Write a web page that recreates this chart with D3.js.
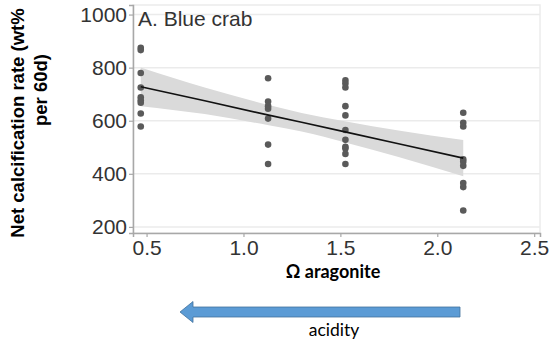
<!DOCTYPE html>
<html>
<head>
<meta charset="utf-8">
<script src="https://cdn.jsdelivr.net/npm/d3@7"></script>
<style>
  body { margin: 0; background: #fff; }
  svg { display: block; }
</style>
</head>
<body>
<div id="viz"></div>
<script>
// Valores
const omegaGroups = [0.47, 1.127, 1.526, 2.134];
const calcG1 = [875, 866, 780, 725, 688, 677, 668, 627, 578];
const calcG2 = [760, 672, 655, 645, 608, 510, 437];
const calcG3 = [752, 740, 725, 655, 620, 565, 528, 502, 495, 475, 437];
const calcG4 = [630, 592, 578, 455, 445, 430, 365, 350, 262];

// Recta de regresión y banda de confianza
const fitOmega = [0.47, 0.8, 1.13, 1.3, 1.53, 1.8, 2.134];
const fitRate  = [728, 675, 621, 594, 557, 513, 459];
const fitLower = [655, 625, 583, 559, 517, 463, 391];
const fitUpper = [801, 725, 659, 629, 597, 563, 527];

const xTicks = [0.5, 1.0, 1.5, 2.0, 2.5];
const yTicks = [200, 400, 600, 800, 1000];

const W = 549, H = 343;
const plot = {left: 133, right: 540, top: 5, bottom: 233};

const svg = d3.select('#viz')
  .append('svg')
  .attr('width', W)
  .attr('height', H);

const x = d3.scaleLinear().domain([0.43, 2.53]).range([plot.left, plot.right]);
const y = d3.scaleLinear().domain([177, 1036]).range([plot.bottom, plot.top]);

// Panel
svg.append('rect')
  .attr('x', plot.left).attr('y', plot.top)
  .attr('width', plot.right - plot.left)
  .attr('height', plot.bottom - plot.top)
  .attr('fill', '#fff')
  .attr('stroke', '#ececec')
  .attr('stroke-width', 1.5);

// Líneas de rejilla horizontales
svg.append('g')
  .selectAll('line')
  .data(yTicks)
  .join('line')
  .attr('x1', plot.left).attr('x2', plot.right)
  .attr('y1', d => y(d)).attr('y2', d => y(d))
  .attr('stroke', '#ebebeb')
  .attr('stroke-width', 1.5);

// Banda de confianza
const band = fitOmega.map((o, i) => ({o, lo: fitLower[i], hi: fitUpper[i], fit: fitRate[i]}));
svg.append('path')
  .datum(band)
  .attr('d', d3.area()
    .x(d => x(d.o))
    .y0(d => y(d.lo))
    .y1(d => y(d.hi))
    .curve(d3.curveMonotoneX))
  .attr('fill', '#dadada');

// Puntos
const groups = [calcG1, calcG2, calcG3, calcG4];
const points = groups.flatMap((vals, i) => vals.map(v => ({o: omegaGroups[i], v})));
svg.append('g')
  .selectAll('circle')
  .data(points)
  .join('circle')
  .attr('cx', d => x(d.o))
  .attr('cy', d => y(d.v))
  .attr('r', 3.3)
  .attr('fill', '#5a5a5a');

// Recta ajustada
svg.append('path')
  .datum(band)
  .attr('d', d3.line().x(d => x(d.o)).y(d => y(d.fit)))
  .attr('fill', 'none')
  .attr('stroke', '#111')
  .attr('stroke-width', 1.6);

// Ejes
const yAxis = svg.append('g')
  .attr('transform', `translate(${plot.left},0)`)
  .call(d3.axisLeft(y).tickValues(yTicks).tickSize(4).tickPadding(2).tickFormat(d3.format('d')));
const xAxis = svg.append('g')
  .attr('transform', `translate(0,${plot.bottom})`)
  .call(d3.axisBottom(x).tickValues(xTicks).tickSize(4).tickPadding(3).tickFormat(d3.format('.1f')));

[yAxis, xAxis].forEach(ax => {
  ax.select('.domain').attr('stroke', '#a8a8a8').attr('stroke-width', 1.5);
  ax.selectAll('.tick line').attr('stroke', '#a8a8a8').attr('stroke-width', 1.2);
  ax.selectAll('.tick text')
    .attr('fill', '#333')
    .style('font-family', '"Liberation Sans", Arial, sans-serif')
    .style('font-size', '21px');
});

// Etiqueta del panel
svg.append('text')
  .attr('x', 138).attr('y', 26)
  .attr('fill', '#333')
  .style('font-family', '"Liberation Sans", Arial, sans-serif')
  .style('font-size', '21px')
  .text('A. Blue crab');

// Título del eje Y (dos líneas)
const yTitle = svg.append('g')
  .style('font-family', '"Liberation Sans", Arial, sans-serif')
  .style('font-size', '18.5px')
  .style('font-weight', 'bold')
  .attr('fill', '#000');
yTitle.append('text')
  .attr('transform', 'translate(24,123) rotate(-90)')
  .attr('text-anchor', 'middle')
  .text('Net calcification rate (wt%');
yTitle.append('text')
  .attr('transform', 'translate(47,90) rotate(-90)')
  .attr('text-anchor', 'middle')
  .text('per 60d)');

// Título del eje X
svg.append('text')
  .attr('x', 333).attr('y', 278)
  .attr('text-anchor', 'middle')
  .style('font-family', 'Lato, sans-serif')
  .style('font-size', '18px')
  .style('font-weight', 'bold')
  .attr('fill', '#000')
  .text('Ω aragonite');

// Flecha de acidez
const arrowY = 312;
svg.append('path')
  .attr('d', `M180,${arrowY} L193,${arrowY - 10.5} L193,${arrowY - 5} L460,${arrowY - 5} L460,${arrowY + 5} L193,${arrowY + 5} L193,${arrowY + 10.5} Z`)
  .attr('fill', '#5b9bd5')
  .attr('stroke', '#41719c')
  .attr('stroke-width', 0.8);

svg.append('text')
  .attr('x', 334).attr('y', 336)
  .attr('text-anchor', 'middle')
  .style('font-family', 'Lato, sans-serif')
  .style('font-size', '17.5px')
  .attr('fill', '#000')
  .text('acidity');
</script>
</body>
</html>
